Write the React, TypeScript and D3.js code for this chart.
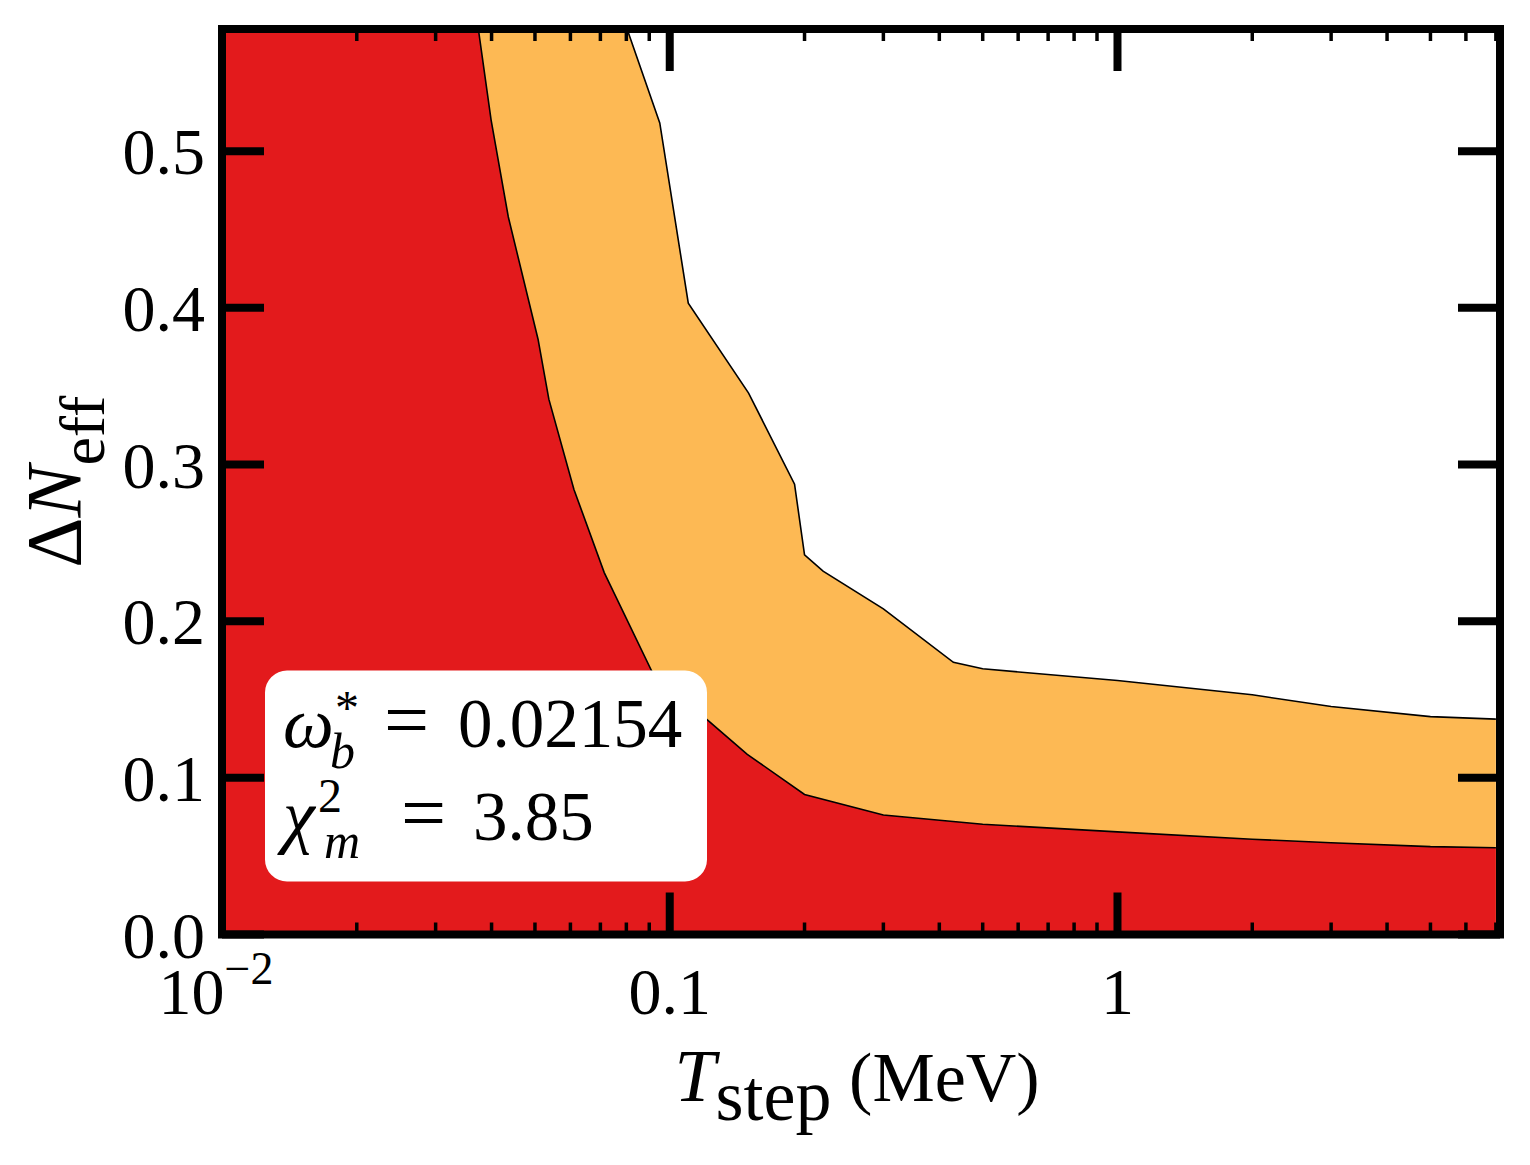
import React from "react";
import * as d3 from "d3";

// ---- data ----
const redT = [0.01, 0.035, 0.0399, 0.0436, 0.0508, 0.0537, 0.0611, 0.0714, 0.0913, 0.1206, 0.149, 0.2, 0.3, 0.5, 1, 2, 3, 5, 7];
const redV = [0.64, 0.636, 0.52, 0.458, 0.38, 0.3417, 0.2841, 0.231, 0.1677, 0.1376, 0.115, 0.0894, 0.0763, 0.0704, 0.0655, 0.0608, 0.0586, 0.0561, 0.0554];

const orangeT = [0.01, 0.07, 0.095, 0.11, 0.15, 0.19, 0.2, 0.22, 0.3, 0.43, 0.5, 1, 2, 3, 5, 7];
const orangeV = [0.64, 0.627, 0.518, 0.403, 0.3456, 0.2874, 0.2424, 0.2319, 0.2079, 0.1737, 0.1696, 0.1621, 0.153, 0.1455, 0.1391, 0.1375];

const yTicks = [0, 0.1, 0.2, 0.3, 0.4, 0.5];
const yTickLabels = ["0.0", "0.1", "0.2", "0.3", "0.4", "0.5"];
const xMajor = [0.01, 0.1, 1];
const xMinor = [0.02, 0.03, 0.04, 0.05, 0.06, 0.07, 0.08, 0.09, 0.2, 0.3, 0.4, 0.5, 0.6, 0.7, 0.8, 0.9, 2, 3, 4, 5, 6, 7];

const RED = "#e31a1c";
const ORANGE = "#fdb954";
const FONT = "'Liberation Serif', 'DejaVu Serif', serif";

export default function App() {
  const W = 1530, H = 1165;
  const L = 222, R = 1500, T = 29, B = 934.5;
  const x = d3.scaleLog().domain([0.01, 7.15]).range([L, R]);
  const y = d3.scaleLinear().domain([0, 0.578]).range([B, T]);

  const red = redT.map((t, i) => [t, redV[i]] as [number, number]);
  const orange = orangeT.map((t, i) => [t, orangeV[i]] as [number, number]);

  const area = d3.area<[number, number]>().x(d => x(d[0])).y0(y(0)).y1(d => y(d[1]));
  const line = d3.line<[number, number]>().x(d => x(d[0])).y(d => y(d[1]));

  const majorLen = 42, minorLen = 12;

  return (
    <div style={{ position: "absolute", left: 0, top: 0 }}>
      <svg width={W} height={H} style={{ display: "block", background: "#fff" }} fontFamily={FONT}>
        <defs>
          <clipPath id="plotclip">
            <rect x={L} y={T} width={R - L} height={B - T} />
          </clipPath>
        </defs>
        <g clipPath="url(#plotclip)">
          <path d={area(orange) || ""} fill={ORANGE} />
          <path d={area(red) || ""} fill={RED} />
          <path d={line(orange) || ""} fill="none" stroke="#000" strokeWidth={1.6} />
          <path d={line(red) || ""} fill="none" stroke="#000" strokeWidth={1.6} />
        </g>

        {/* text box */}
        <rect x={265} y={670.5} width={442} height={211} rx={22} ry={22} fill="#fff" />
        <text fontSize={72} fill="#000">
          <tspan x={283} y={747} fontStyle="italic">ω</tspan>
          <tspan x={335} y={724} fontSize={48}>*</tspan>
          <tspan x={330} y={768} fontSize={50} fontStyle="italic">b</tspan>
          <tspan x={384} y={747} fontSize={80}>=</tspan>
          <tspan x={458} y={747} fontSize={69}>0.02154</tspan>
        </text>
        <text fontSize={72} fill="#000">
          <tspan x={283} y={840} fontStyle="italic">χ</tspan>
          <tspan x={318} y={812} fontSize={48}>2</tspan>
          <tspan x={324} y={858} fontSize={50} fontStyle="italic">m</tspan>
          <tspan x={401} y={840} fontSize={80}>=</tspan>
          <tspan x={473} y={840} fontSize={69}>3.85</tspan>
        </text>

        {/* ticks */}
        {yTicks.map((v, i) => (
          <g key={"yt" + i}>
            <line x1={L} x2={L + majorLen} y1={y(v)} y2={y(v)} stroke="#000" strokeWidth={8} />
            <line x1={R} x2={R - majorLen} y1={y(v)} y2={y(v)} stroke="#000" strokeWidth={8} />
            <text x={205} y={y(v)} dy="0.35em" textAnchor="end" fontSize={66}>{yTickLabels[i]}</text>
          </g>
        ))}
        {xMajor.map((v, i) => (
          <g key={"xM" + i}>
            <line x1={x(v)} x2={x(v)} y1={B} y2={B - majorLen} stroke="#000" strokeWidth={8} />
            <line x1={x(v)} x2={x(v)} y1={T} y2={T + majorLen} stroke="#000" strokeWidth={8} />
          </g>
        ))}
        {xMinor.map((v, i) => (
          <g key={"xm" + i}>
            <line x1={x(v)} x2={x(v)} y1={B} y2={B - minorLen} stroke="#000" strokeWidth={3.5} />
            <line x1={x(v)} x2={x(v)} y1={T} y2={T + minorLen} stroke="#000" strokeWidth={3.5} />
          </g>
        ))}

        {/* x tick labels */}
        <text x={x(0.01) - 6} y={1014} textAnchor="middle" fontSize={66}>
          10<tspan dy={-30} fontSize={46}>−2</tspan>
        </text>
        <text x={x(0.1)} y={1014} textAnchor="middle" fontSize={66}>0.1</text>
        <text x={x(1)} y={1014} textAnchor="middle" fontSize={66}>1</text>

        {/* spines */}
        <rect x={L} y={T} width={R - L} height={B - T} fill="none" stroke="#000" strokeWidth={8} />

        {/* axis labels */}
        <text x={857} y={1101} textAnchor="middle" fontSize={74}>
          <tspan fontStyle="italic">T</tspan>
          <tspan dy={19} fontSize={72}>step</tspan>
          <tspan dy={-19} fontSize={70}> (MeV)</tspan>
        </text>
        <text transform={`translate(80, ${(T + B) / 2}) rotate(-90)`} textAnchor="middle" fontSize={78}>
          <tspan>Δ</tspan>
          <tspan fontStyle="italic">N</tspan>
          <tspan dy={24} fontSize={64}>eff</tspan>
        </text>
      </svg>
    </div>
  );
}
